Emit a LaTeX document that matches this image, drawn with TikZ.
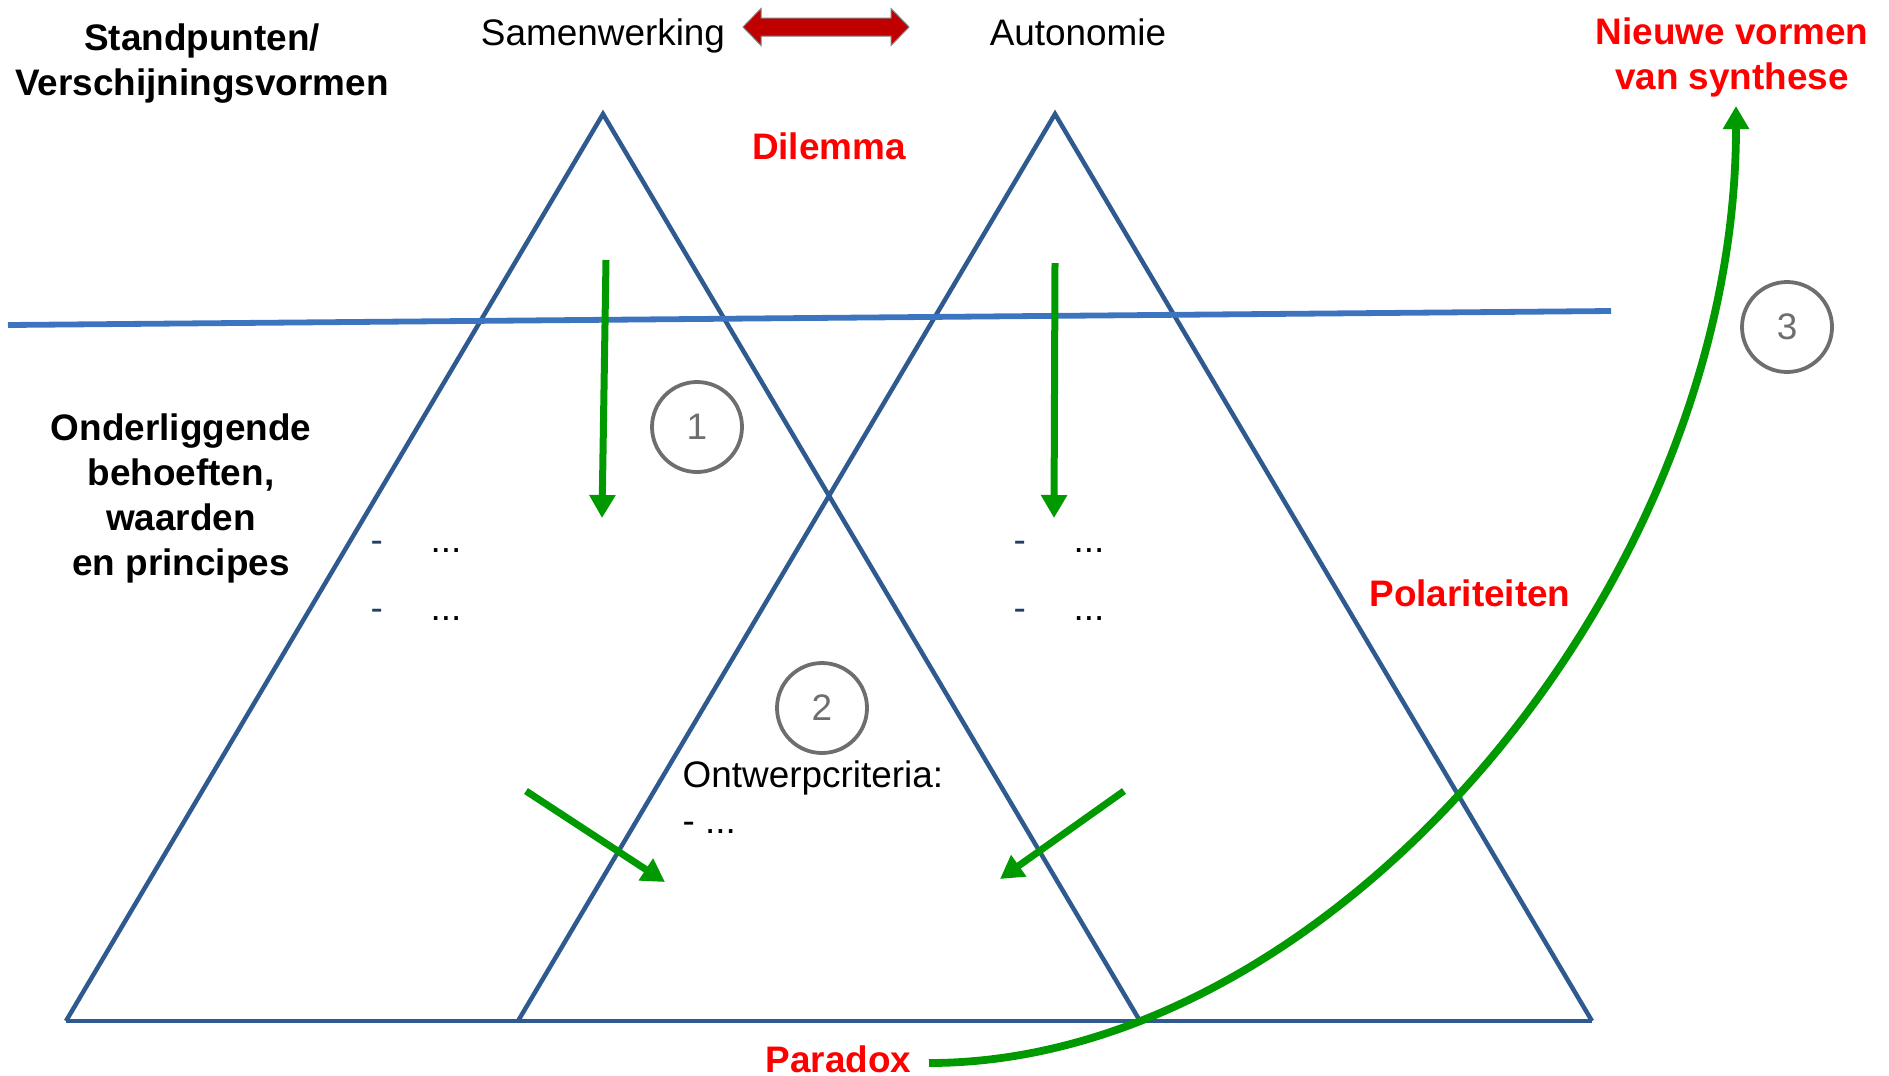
\documentclass[tikz,border=0pt]{standalone}
\usepackage{fontspec}
\setmainfont{Liberation Sans}
\usetikzlibrary{arrows.meta}
\definecolor{triblue}{HTML}{2F5A8F}
\definecolor{lineblue}{HTML}{3C74C0}
\definecolor{arrgreen}{HTML}{009900}
\definecolor{darkred}{HTML}{C00000}
\definecolor{numgray}{HTML}{6E6E6E}
\begin{document}
\begin{tikzpicture}[x=0.1mm, y=-0.1mm,
   every node/.style={font=\fontsize{10.5}{12.8}\selectfont, inner sep=0pt},
   headtxt/.style={font=\fontsize{10.5}{12.8}\selectfont\bfseries, align=center},
   redtxt/.style={headtxt, text=red},
   tri/.style={draw=triblue, line width=0.45mm, line join=miter},
   greenarr/.style={draw=arrgreen, line width=0.7mm,
     -{Triangle[length=2.3mm,width=2.5mm]}},
   numcirc/.style={circle, draw=numgray, line width=0.38mm,
     minimum size=9mm, text=numgray}]
    \useasboundingbox (0,0) rectangle (1889,1075);
    % triangles
    \coordinate (lt) at (603,114);
    \coordinate (ll) at (66,1021);
    \coordinate (lr) at (1140,1021);
    \coordinate (rt) at (1055,114);
    \coordinate (rl) at (518,1021);
    \coordinate (rr) at (1592,1021);
    \draw[tri] (ll)--(lt)--(lr);
    \draw[tri] (rl)--(rt)--(rr);
    \draw[tri] (ll)--(rr);
    \coordinate (hl) at (8,325);
    \coordinate (hr) at (1611,311);
    \draw[draw=lineblue, line width=0.58mm] (hl)--(hr);
    % top labels
    \node[headtxt] (stand) at (202,64) {Standpunten/\\Verschijningsvormen};
    \node (samen) at (603,36) {Samenwerking};
    \node (auto) at (1078,32) {Autonomie};
    \path[fill=darkred, draw=gray, line width=0.1mm]
      (743,27)--(761,8.5)--(761,18)--(891,18)--(891,8.5)--(909,27)
      --(891,45.5)--(891,36)--(761,36)--(761,45.5)--cycle;
    \node[redtxt] (dilem) at (829,146) {Dilemma};
    \node[redtxt] (nieuw) at (1732,57) {Nieuwe vormen\\van synthese};
    \node[headtxt] (onder) at (181,498)
      {Onderliggende\\behoeften,\\waarden\\en principes};
    \node[redtxt] (polar) at (1470,593) {Polariteiten};
    \node[redtxt, anchor=east] (parad) at (912,1059) {Paradox};
    % lists
    \foreach \x/\y in {370/552, 370/620, 1013/552, 1013/620}
      \node[anchor=base west, text=triblue!70!black] at (\x,\y) {-};
    \foreach \x/\y in {430/552, 430/620, 1073/552, 1073/620}
      \node[anchor=base west] at (\x,\y) {...};
    \node[anchor=base west] (crit) at (682,787) {Ontwerpcriteria:};
    \node[anchor=base west] (critl) at (682,833) {- ...};
    % numbered circles
    \node[numcirc] (c1) at (697,427) {1};
    \node[numcirc] (c2) at (822,708) {2};
    \node[numcirc] (c3) at (1787,327) {3};
    % green arrows
    \coordinate (a1) at (606,260);
    \coordinate (a2) at (602,518);
    \coordinate (b1) at (1055,263);
    \coordinate (b2) at (1054,518);
    \coordinate (d1) at (526,791);
    \coordinate (d2) at (665,882);
    \coordinate (e1) at (1124,791);
    \coordinate (e2) at (1000,879);
    \coordinate (syn) at (1736,106);
    \draw[greenarr] (a1)--(a2);
    \draw[greenarr] (b1)--(b2);
    \draw[greenarr] (d1)--(d2);
    \draw[greenarr] (e1)--(e2);
    \draw[greenarr, line width=0.78mm] (parad.east) ++(17,4) coordinate (p0)
      (p0) .. controls (1332,1063) and (1736,585) .. (syn);
   \end{tikzpicture}
\end{document}
